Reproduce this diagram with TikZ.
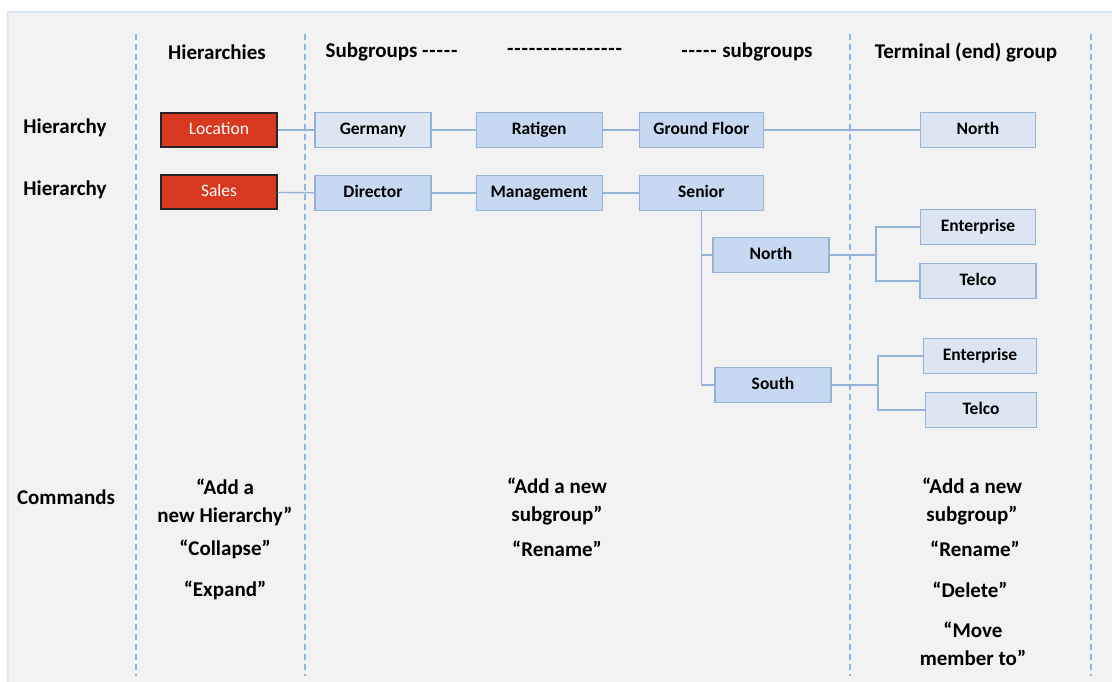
\documentclass[tikz,border=0pt]{standalone}
\usepackage{fontspec}
\setmainfont{Carlito}
\usepackage{xcolor}
\usetikzlibrary{positioning}
\definecolor{panelgray}{RGB}{242,242,242}
\definecolor{paneledge}{RGB}{221,231,243}
\definecolor{hierred}{RGB}{216,57,31}
\definecolor{boxedge}{RGB}{149,179,215}
\definecolor{lightfill}{RGB}{220,230,242}
\definecolor{midfill}{RGB}{198,217,241}
\definecolor{guideblue}{RGB}{142,180,227}
\newcommand{\hyphens}[1]{\foreach \k in {1,...,#1}{-\kern0.8pt}}

\begin{document}
\begin{tikzpicture}[x=1pt, y=-1pt,
    node distance=27pt and 44pt,
    hierbox/.style={rectangle, draw=black!85, line width=1.3pt, fill=hierred,
                text=white, minimum width=116pt, minimum height=34pt,
                inner sep=0pt, text height=12pt, text depth=3pt,
                font=\fontsize{17.5}{20}\selectfont},
    groupbox/.style={rectangle, draw=boxedge, line width=1.2pt, fill=midfill,
                minimum width=116pt, minimum height=35pt, inner sep=0pt,
                text height=12pt, text depth=3pt,
                font=\fontsize{17.5}{20}\selectfont\bfseries},
    endbox/.style={groupbox, fill=lightfill},
    heading/.style={font=\fontsize{21}{24}\selectfont\bfseries},
    command/.style={align=center, font=\fontsize{21}{28}\selectfont\bfseries},
    link/.style={draw=boxedge, line width=1.4pt},
    guide/.style={draw=guideblue, line width=1.1pt, dash pattern=on 6pt off 4pt}
]
    \useasboundingbox (0,0) rectangle (1112,682);
    % Panel
    \fill[white] (0,0) rectangle (1112,682);
    \filldraw[fill=panelgray, draw=paneledge, line width=1.5pt] (8,12) rectangle (1116,686);

    % Column guides
    \draw[guide] (136,34) -- (136,676);
    \draw[guide] (305,34) -- (305,676);
    \draw[guide] (850,34) -- (850,676);
    \draw[guide] (1091,34) -- (1091,676);

    % Headings
    \node[heading] (hhier) at (217,52) {Hierarchies};
    \node[heading] (hsub1) at (392,52) {Subgroups \hyphens{5}};
    \node[heading] (hsub2) at (565,52) {\hyphens{16}};
    \node[heading] (hsub3) at (747,52) {\hyphens{5} subgroups};
    \node[heading] (hend) at (966,52) {Terminal (end) group};

    % Row labels
    \node[heading] (rowloc) at (65,128) {Hierarchy};
    \node[heading] (rowsales) at (65,190) {Hierarchy};
    \node[heading] (rowcmd) at (66,497) {Commands};

    % Hierarchies
    \node[hierbox] (location) at (219,130) {Location};
    \node[hierbox] (sales) at (219,192) {Sales};

    % Location row
    \node[endbox] (germany) at (373,130) {Germany};
    \node[groupbox, minimum width=126pt, right=44pt of germany] (ratigen) {Ratigen};
    \node[groupbox, minimum width=124pt, right=36pt of ratigen] (ground) {Ground Floor};
    \node[endbox, minimum width=115pt] (northend) at (978,130) {North};

    % Sales row
    \node[groupbox, below=27pt of germany] (director) {Director};
    \node[groupbox, minimum width=126pt, right=44pt of director] (management) {Management};
    \node[groupbox, minimum width=124pt, right=36pt of management] (senior) {Senior};

    % Regions under Senior
    \node[groupbox] (northsub) at (771,255) {North};
    \node[groupbox] (southsub) at (773,385) {South};

    % Terminal groups
    \node[endbox, minimum width=115pt] (entnorth) at (978,227) {Enterprise};
    \node[endbox, minimum width=116pt] (telnorth) at (978,281) {Telco};
    \node[endbox, minimum width=113pt] (entsouth) at (980,356) {Enterprise};
    \node[endbox, minimum width=111pt] (telsouth) at (981,410) {Telco};

    % Lines
    \draw[link] (location) -- (germany);
    \draw[link] (germany) -- (ratigen);
    \draw[link] (ratigen) -- (ground);
    \draw[link] (ground) -- (northend);
    \draw[link] (sales) -- (director);
    \draw[link] (director) -- (management);
    \draw[link] (management) -- (senior);
    \draw[link] (senior.south) |- (northsub.west);
    \draw[link] (senior.south) |- (southsub.west);
    \coordinate (forknorth) at (876,255);
    \coordinate (forksouth) at (878,385);
    \draw[link, line width=2pt] (northsub) -- (forknorth);
    \draw[link] (forknorth) |- (entnorth.west);
    \draw[link] (forknorth) |- (telnorth.west);
    \draw[link, line width=2pt] (southsub) -- (forksouth);
    \draw[link] (forksouth) |- (entsouth.west);
    \draw[link] (forksouth) |- (telsouth.west);

    % Commands
    \node[command] (addhier) at (225,502) {“Add a\\new Hierarchy”};
    \node[command] (collapse) at (225,549) {“Collapse”};
    \node[command] (expand) at (225,590) {“Expand”};
    \node[command] (addsub) at (557,502) {“Add a new\\subgroup”};
    \node[command] (renamesub) at (557,549) {“Rename”};
    \node[command] (addend) at (972,502) {“Add a new\\subgroup”};
    \node[command] (renameend) at (975,549) {“Rename”};
    \node[command] (deleteend) at (970,590) {“Delete”};
    \node[command] (moveend) at (973,644) {“Move\\member to”};
\end{tikzpicture}
\end{document}
